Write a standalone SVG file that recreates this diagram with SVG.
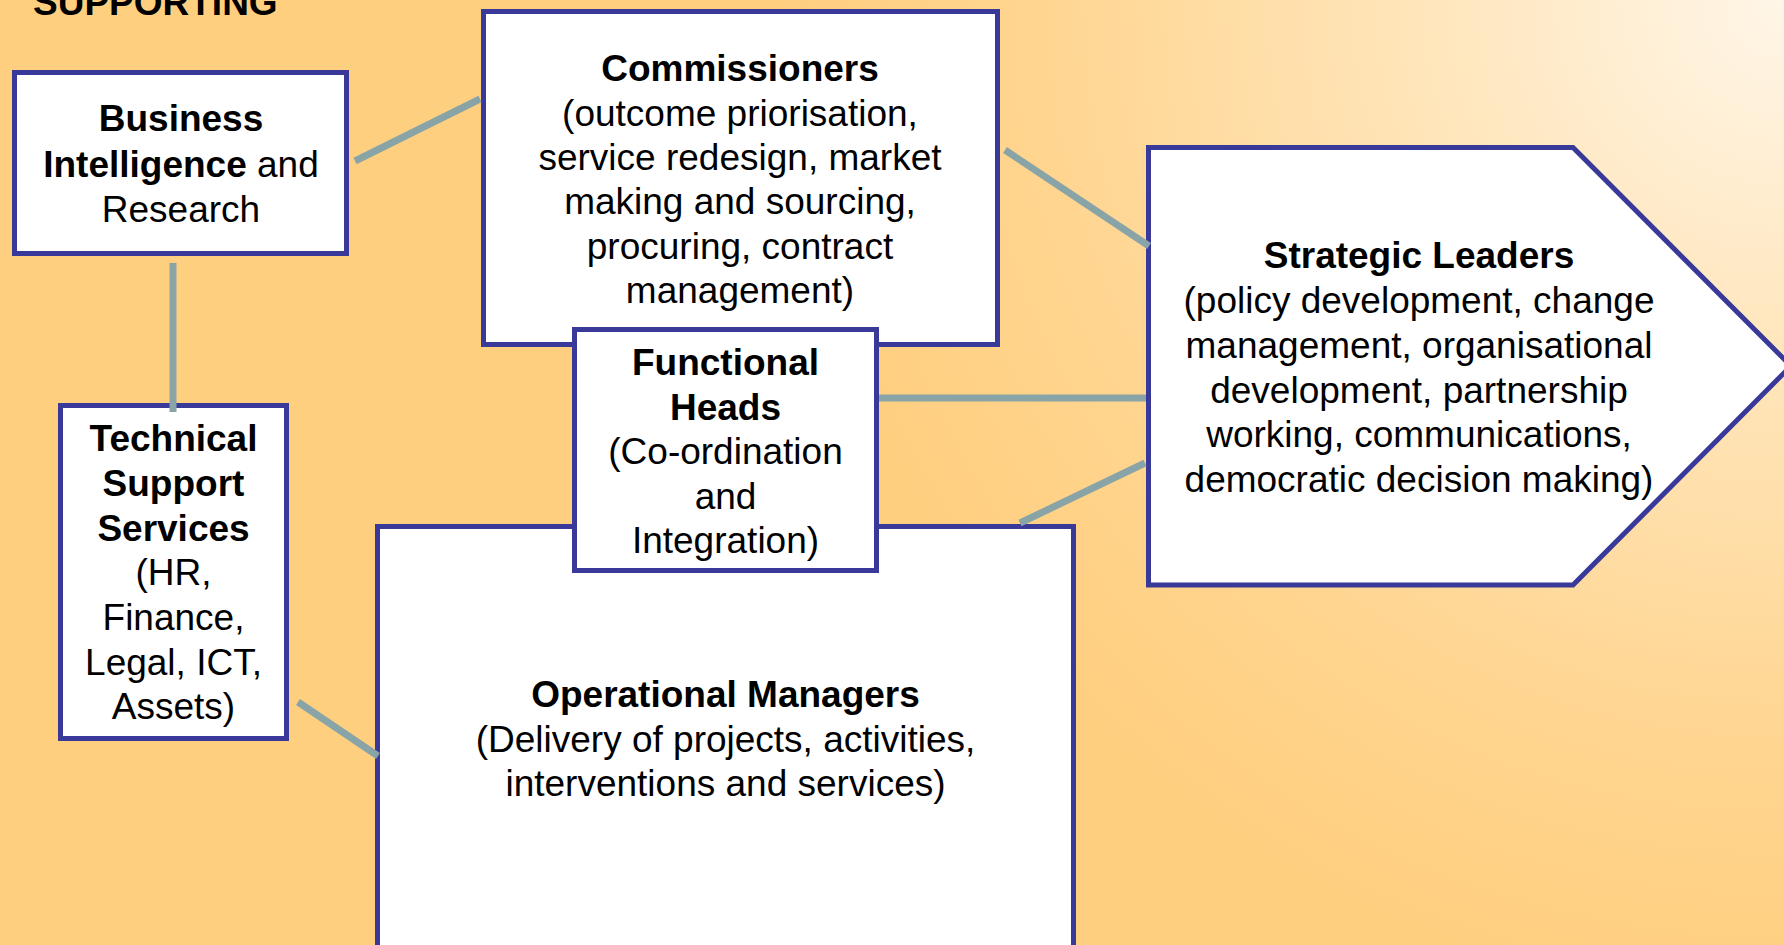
<svg xmlns="http://www.w3.org/2000/svg" width="1784" height="945" viewBox="0 0 1784 945">
  <defs>
    <radialGradient id="bg" cx="1784" cy="0" r="1000" gradientUnits="userSpaceOnUse">
      <stop offset="0" stop-color="#FFF6E8"/>
      <stop offset="0.35" stop-color="#FFE6BC"/>
      <stop offset="0.75" stop-color="#FFD590"/>
      <stop offset="1" stop-color="#FFCF80"/>
    </radialGradient>
  </defs>
  <style>
    .box { fill: #FFFFFF; stroke: #39399A; stroke-width: 5; }
    .conn { stroke: #89A4A7; stroke-width: 7; fill: none; }
    text { font-family: "Liberation Sans", Arial, sans-serif; font-size: 37px; fill: #000000; text-anchor: middle; }
    .b { font-weight: bold; }
  </style>
  <rect x="0" y="0" width="1784" height="945" fill="#FFCF80"/>
  <rect x="0" y="0" width="1784" height="945" fill="url(#bg)"/>

  <g id="title">
    <text x="33" y="15" class="b" style="text-anchor:start">SUPPORTING</text>
  </g>

  <g id="business-intelligence">
    <rect class="box" x="14.5" y="72.5" width="332" height="181"/>
    <text x="181" y="131" class="b">Business</text>
    <text x="181" y="177"><tspan class="b">Intelligence</tspan> and</text>
    <text x="181" y="222">Research</text>
  </g>

  <g id="commissioners">
    <rect class="box" x="483.5" y="11.5" width="514" height="333"/>
    <text x="740" y="81" class="b">Commissioners</text>
    <text x="740" y="126">(outcome priorisation,</text>
    <text x="740" y="170">service redesign, market</text>
    <text x="740" y="214">making and sourcing,</text>
    <text x="740" y="259">procuring, contract</text>
    <text x="740" y="303">management)</text>
  </g>

  <g id="technical-support">
    <rect class="box" x="60.5" y="405.5" width="226" height="333"/>
    <text x="173.5" y="451" class="b">Technical</text>
    <text x="173.5" y="496" class="b">Support</text>
    <text x="173.5" y="541" class="b">Services</text>
    <text x="173.5" y="585">(HR,</text>
    <text x="173.5" y="630">Finance,</text>
    <text x="173.5" y="675">Legal, ICT,</text>
    <text x="173.5" y="719">Assets)</text>
  </g>

  <g id="operational-managers">
    <rect class="box" x="377.5" y="526.5" width="696" height="440"/>
    <text x="725.5" y="707" class="b">Operational Managers</text>
    <text x="725.5" y="752">(Delivery of projects, activities,</text>
    <text x="725.5" y="796">interventions and services)</text>
  </g>

  <g id="functional-heads">
    <rect class="box" x="574.5" y="329.5" width="302" height="241"/>
    <text x="725.5" y="375" class="b">Functional</text>
    <text x="725.5" y="419.5" class="b">Heads</text>
    <text x="725.5" y="464">(Co-ordination</text>
    <text x="725.5" y="508.5">and</text>
    <text x="725.5" y="553">Integration)</text>
  </g>

  <g id="strategic-leaders">
    <polygon class="box" points="1148.5,147.5 1573,147.5 1791,366 1573,585 1148.5,585"/>
    <text x="1419" y="268" class="b">Strategic Leaders</text>
    <text x="1419" y="313">(policy development, change</text>
    <text x="1419" y="358">management, organisational</text>
    <text x="1419" y="403">development, partnership</text>
    <text x="1419" y="447">working, communications,</text>
    <text x="1419" y="492">democratic decision making)</text>
  </g>

  <g id="connectors">
    <line class="conn" x1="355" y1="161" x2="480" y2="99"/>
    <line class="conn" x1="173" y1="263" x2="173" y2="412"/>
    <line class="conn" x1="298" y1="702" x2="378" y2="756"/>
    <line class="conn" x1="1005" y1="150" x2="1149" y2="246"/>
    <line class="conn" x1="879" y1="398" x2="1146" y2="398"/>
    <line class="conn" x1="1020" y1="523" x2="1145" y2="463"/>
  </g>
</svg>
